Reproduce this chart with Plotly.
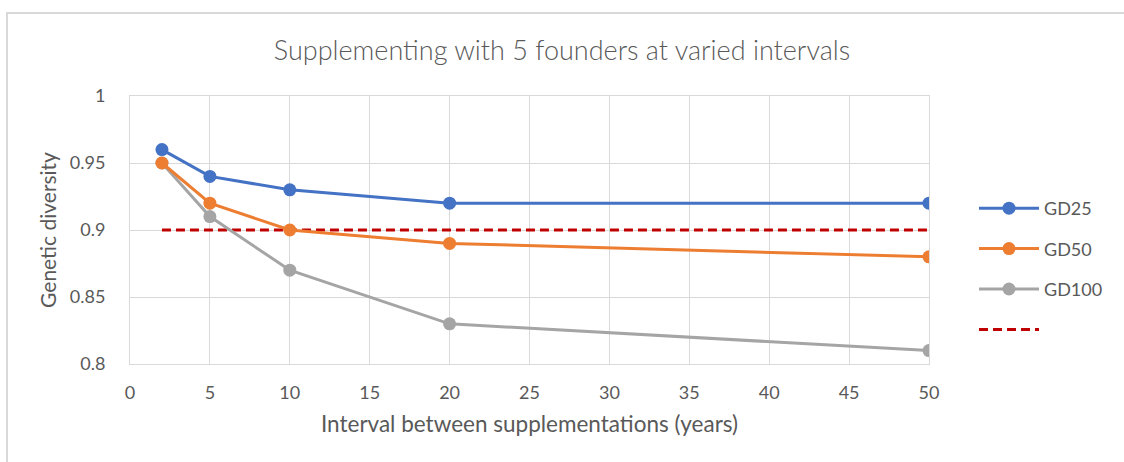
import plotly.graph_objects as go

intervals = [2, 5, 10, 20, 50]
gd25 = [0.96, 0.94, 0.93, 0.92, 0.92]
gd50 = [0.95, 0.92, 0.90, 0.89, 0.88]
gd100 = [0.95, 0.91, 0.87, 0.83, 0.81]
threshold_x = [2, 50]
threshold_y = [0.9, 0.9]

FONT = "Lato"
GREY_TXT = "#595959"
GRID = "#d9d9d9"

fig = go.Figure()
fig.add_trace(go.Scatter(x=threshold_x, y=threshold_y, mode="lines", name=" ",
                         line=dict(color="#c00000", width=3, dash="9px,5px"),
                         legendrank=4, legendgroup="d"))
for name, ys, col, rank in [("GD100", gd100, "#a5a5a5", 3), ("GD50", gd50, "#ed7d31", 2), ("GD25", gd25, "#4472c4", 1)]:
    fig.add_trace(go.Scatter(x=intervals, y=ys, mode="lines+markers", name=name,
                             line=dict(color=col, width=3),
                             marker=dict(color=col, size=13),
                             legendrank=rank, legendgroup=name))

fig.update_layout(
    width=1124, height=462,
    margin=dict(l=130, r=195, t=96, b=98),
    paper_bgcolor="white", plot_bgcolor="white",
    font=dict(family=FONT, color=GREY_TXT, size=18),
    title=dict(text="Supplementing with 5 founders at varied intervals",
               x=0.5, xref="container", xanchor="center",
               y=1 - 51 / 462, yref="container", yanchor="middle",
               font=dict(size=27, color=GREY_TXT, family=FONT, weight=300)),
    legend=dict(x=1 + 45 / 799, xanchor="left", xref="paper",
                y=(364 - 269) / 268, yanchor="middle",
                traceorder="grouped", tracegroupgap=14,
                font=dict(size=18, color=GREY_TXT), itemwidth=60,
                bgcolor="rgba(0,0,0,0)"),
    showlegend=True,
)
fig.update_xaxes(range=[0, 50], dtick=5, tick0=0, showgrid=True, gridcolor=GRID, gridwidth=1,
                 showline=True, linecolor=GRID, linewidth=1, mirror=True, zeroline=False,
                 ticks="", ticklabelstandoff=12,
                 title=dict(text="Interval between supplementations (years)", standoff=14,
                            font=dict(size=22.5, color=GREY_TXT)))
fig.update_yaxes(range=[0.8, 1.0], dtick=0.05, tick0=0.8, showgrid=True, gridcolor=GRID, gridwidth=1,
                 showline=True, linecolor=GRID, linewidth=1, mirror=True, zeroline=False,
                 ticks="", ticklabelstandoff=20, tickformat="~g",
                 title=dict(text="Genetic diversity", standoff=7,
                            font=dict(size=21, color=GREY_TXT)))

# chart frame (top and left border)
pw, ph = 1124 - 130 - 195, 462 - 96 - 98
def px_x(p):
    return (p - 130) / pw
def px_y(p):
    return (462 - 98 - p) / ph
fig.add_shape(type="line", xref="paper", yref="paper", x0=px_x(6), x1=px_x(1130), y0=px_y(13), y1=px_y(13),
              line=dict(color=GRID, width=2))
fig.add_shape(type="line", xref="paper", yref="paper", x0=px_x(7), x1=px_x(7), y0=px_y(12), y1=px_y(470),
              line=dict(color=GRID, width=2))

fig.write_html("out.html", config={"displayModeBar": False},
               post_script="document.body.style.margin='0px';")
